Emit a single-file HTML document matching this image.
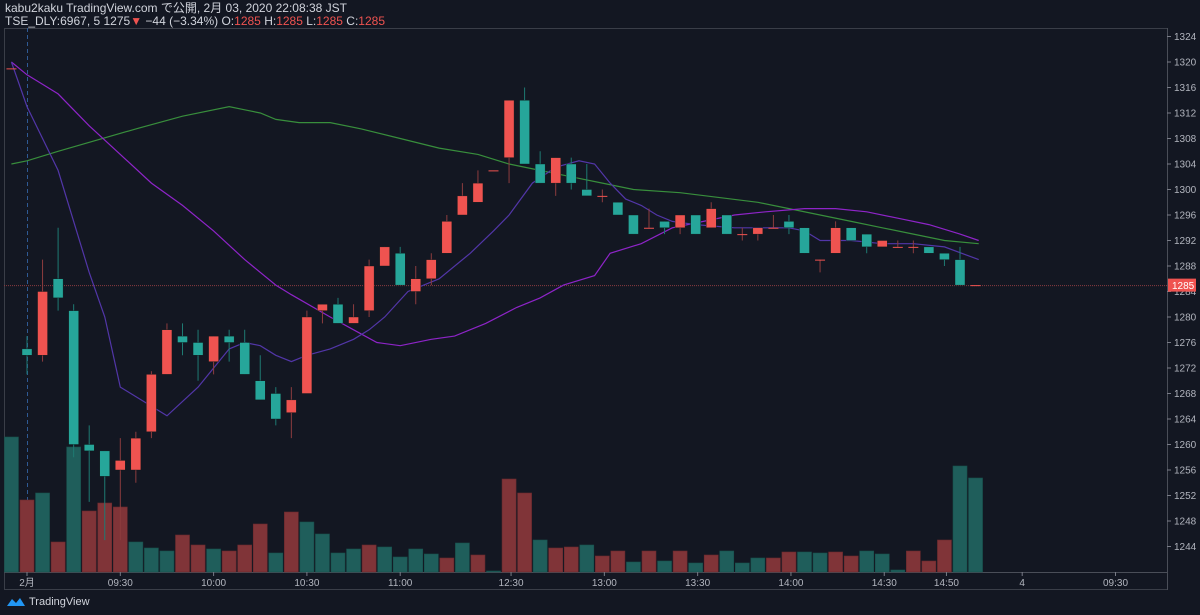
<!DOCTYPE html>
<html><head><meta charset="utf-8"><style>
html,body{margin:0;padding:0;background:#131722;width:1200px;height:615px;overflow:hidden;font-family:"Liberation Sans","Noto Sans CJK JP",sans-serif;}
#hdr{position:absolute;left:5px;top:2px;color:#d1d4dc;font-size:12px;line-height:12.5px;}
#hdr .r{color:#ef5350}
#logo{position:absolute;left:6px;top:596px;color:#d1d4dc;font-size:11px;display:flex;align-items:center;gap:3px}
</style></head><body>
<div id="hdr">
<div>kabu2kaku TradingView.com で公開, 2月 03, 2020 22:08:38 JST</div>
<div>TSE_DLY:6967, 5 1275<span class="r">▼</span> −44 (−3.34%) O:<span class="r">1285</span> H:<span class="r">1285</span> L:<span class="r">1285</span> C:<span class="r">1285</span></div>
</div>
<svg id="chart" width="1200" height="615" style="position:absolute;left:0;top:0"></svg>
<div id="logo"><svg width="20" height="12" viewBox="0 0 20 12"><path d="M1 10 L6 3 L10 7 L14 2 L19 10 Z" fill="#2196f3"/></svg><span>TradingView</span></div>
<script>
// data: index -1..61
const opens  =[1319,1275,1274,1286,1281,1260,1259,1256,1256,1262,1271,1277,1276,1273,1277,1276,1270,1268,1265,1268,1281,1282,1279,1281,1288,1290,1284,1286,1290,1296,1298,1303,1305,1314,1304,1301,1304,1300,1299,1298,1296,1294,1295,1294,1296,1294,1296,1293,1293,1294,1295,1294,1289,1290,1294,1293,1291,1291,1291,1291,1290,1289,1285];
const closes =[1319,1274,1284,1283,1260,1259,1255,1257.5,1261,1271,1278,1276,1274,1277,1276,1271,1267,1264,1267,1280,1282,1279,1280,1288,1291,1285,1286,1289,1295,1299,1301,1303,1314,1304,1301,1305,1301,1299,1299,1296,1293,1294,1294,1296,1293,1297,1293,1293,1294,1294,1294,1290,1289,1294,1292,1291,1292,1291,1291,1290,1289,1285,1285];
const highs  =[1319,1277,1289,1294,1282,1263,1259,1261,1262,1271.5,1279,1279,1278,1277,1278,1278,1274,1269,1269,1281,1282,1283,1282,1289,1291,1291,1288,1290,1296,1301,1303,1303,1314,1316,1306,1305,1305,1304,1300,1298,1296,1297,1295,1296,1296,1298,1296,1294,1294,1296,1296,1294,1289,1295,1294,1293,1292,1292,1292,1291,1290,1291,1285];
const lows   =[1319,1271,1273,1281,1258,1251,1245,1245,1254,1261,1271,1274,1270,1271,1273,1271,1267,1263,1261,1268,1279,1279,1279,1280,1288,1285,1282,1285,1290,1296,1298,1303,1301,1304,1301,1299,1300,1299,1298,1296,1293,1294,1293,1293,1293,1294,1293,1292,1292,1294,1293,1290,1287,1290,1292,1290,1291,1291,1290,1290,1288,1285,1285];
const volumeTops=[437,500,493,542,447,511,503,507,542,548,551,535,545,549,551,545,524,553,512,522,534,553,549,545,547,557,549,554,558,543,555,571,479,493,540,548,547,545,556,551,562,551,561,551,563,555,551,563,558,558,552,552,553,552,556,551,554,570,551,561,540,466,478];
const volumeUp=[0,1,0,1,0,1,1,1,0,0,0,1,1,0,1,1,1,0,1,0,0,0,0,1,0,0,0,0,1,0,1,0,1,1,0,1,1,0,1,1,0,1,0,1,0,1,0,0,0,1,1,0,0,1,1,0,0,0,1,1,1,0];
const priceTicks=[1324,1320,1316,1312,1308,1304,1300,1296,1292,1288,1284,1280,1276,1272,1268,1264,1260,1256,1252,1248,1244];
const timeLabels=["2月","09:30","10:00","10:30","11:00","12:30","13:00","13:30","14:00","14:30","14:50","4","09:30"];
const timeIdx=[0,6,12,18,24,31,37,43,49,55,59,64,70];
// moving averages as [barIndex, price]
const maGreenIdx=[-1,0,2,7,10,13,14,15,16,17.5,19.5,21.5,24,26.5,29,31,33,35,37,39,42,47,49,51,53,55,57,59,61.2];
const maGreenVal=[1304,1304.5,1306,1309.5,1311.5,1313,1312.5,1312,1311,1310.5,1310.5,1309.5,1308,1306.5,1305.5,1304,1303,1302,1301,1300,1299.5,1298,1297,1296,1295,1294,1293,1292,1291.5];
const maPurpleIdx=[-1,0,1,2,4,6,8,10,12,14,16,17,19.5,21,22.5,24,26,27.5,29.5,31.5,33,34.5,36.5,37.5,39.5,41.5,43.5,45.5,47.5,50,52,54,56,58,60,61.2];
const maPurpleVal=[1320,1318,1316.5,1315,1310,1305.5,1301,1297.5,1293.5,1289,1285,1283.5,1280,1278,1276,1275.5,1276.5,1277,1279,1281.5,1283,1285,1286.5,1290,1291.5,1294,1295,1296,1296.5,1297,1297,1296.5,1295.5,1294.5,1293,1292];
const maShortIdx=[-1,0,2,4,5,6,9,11,13,14,15,16,17,18,19.5,21,22,23,24.5,26.5,28.5,30,31,32.5,34,35.5,36.5,37.5,38.5,39.5,40.5,41.5,43,45.5,48,49,50,51,53,55,57,59,61.2];
const maShortVal=[1320,1313,1303,1287,1280,1269,1264.5,1269,1275,1276,1275.5,1274,1273,1274,1275,1276.5,1278,1280,1284,1286,1290,1293.5,1296,1301,1303.5,1304.5,1304,1301,1298.5,1297.5,1296,1295,1294.5,1294,1294,1294,1293.5,1292,1292,1291.5,1291.5,1291,1289];

const NS="http://www.w3.org/2000/svg";
const svg=document.getElementById('chart');
const X=i=>27+i*15.55;
const Y=p=>62+(1320-p)*6.375;
function mk(tag,attrs,parent){const e=document.createElementNS(NS,tag);for(const k in attrs)e.setAttribute(k,attrs[k]);(parent||svg).appendChild(e);return e;}
// frame
const g0=mk('g',{});


mk('rect',{x:4.5,y:28.5,width:1163,height:561,fill:'none',stroke:'#3a3e48'},g0);
mk('line',{x1:4,y1:572.5,x2:1167,y2:572.5,stroke:'#4a4e58'},g0);
mk('line',{x1:1167.5,y1:28,x2:1167.5,y2:590,stroke:'#4a4e58'},g0);
// session separator
const sep=mk('line',{x1:27.5,y1:28,x2:27.5,y2:572,stroke:'#2f5a94','stroke-dasharray':'4,3'});


// volume
const gv=mk('g',{});


volumeTops.forEach((t,k)=>{const i=k-1;const up=volumeUp[k];
 const b=mk('rect',{x:X(i)-7,y:t,width:14,height:572-t,fill:up?'#803438':'#1f5e5b',stroke:up?'#6a2a2e':'#18504d','stroke-width':0.6},gv);
 
 });
// price line
const pl=mk('line',{x1:4,y1:Y(1285)+0.5,x2:1167,y2:Y(1285)+0.5,stroke:'#8a3b40','stroke-dasharray':'1,1'});


// MAs
function ma(idx,val,color,name,w){const d=idx.map((v,j)=>(j?'L':'M')+X(v).toFixed(1)+' '+Y(val[j]).toFixed(1)).join(' ');
 const p=mk('path',{d:d,fill:'none',stroke:color,'stroke-width':w});
 
 }
ma(maGreenIdx,maGreenVal,'#388e3c','moving-average-long',1.2);
ma(maPurpleIdx,maPurpleVal,'#8e24c8','moving-average-mid',1.2);
ma(maShortIdx,maShortVal,'#5236a8','moving-average-short',1.2);
// candles
const gc=mk('g',{});


opens.forEach((o,k)=>{const i=k-1,c=closes[k],h=highs[k],l=lows[k];const up=c>=o;
 const cx=X(i);const col=up?'#ef5350':'#26a69a';const wc=up?'#8c3c3e':'#1e7a72';
 const g=mk('g',{},gc);
 
 
 mk('line',{x1:cx,y1:Y(h),x2:cx,y2:Y(l),stroke:wc,'stroke-width':1},g);
 const top=Y(Math.max(o,c)),bh=Math.max(1,Y(Math.min(o,c))-top);
 mk('rect',{x:cx-5,y:top,width:10,height:bh,fill:col,stroke:bh>1?'#0e1a1a':col,'stroke-width':bh>1?0.4:0},g);});
// price axis
const ga=mk('g',{});


priceTicks.forEach(p=>{const y=Y(p);mk('line',{x1:1167,y1:y,x2:1171,y2:y,stroke:'#787b86'},ga);
 const t=mk('text',{x:1174,y:y+3.5,fill:'#b2b5be','font-size':'10px','font-family':'Liberation Sans, sans-serif'},ga);t.textContent=p;});
const lb=mk('g',{});


mk('rect',{x:1168,y:Y(1285)-6.5,width:28,height:13,fill:'#ef5350'},lb);
const lt=mk('text',{x:1172,y:Y(1285)+4,fill:'#fff','font-size':'10px','font-family':'Liberation Sans, sans-serif'},lb);lt.textContent='1285';
// time axis
const gt=mk('g',{});


timeLabels.forEach((s,j)=>{let x=X(timeIdx[j]);if(j>=5&&j<=10)x+=2;
 mk('line',{x1:x,y1:572,x2:x,y2:576,stroke:'#787b86'},gt);
 const t=mk('text',{x:x,y:586,fill:'#b2b5be','font-size':'10px','text-anchor':'middle','font-family':'Liberation Sans, Noto Sans CJK JP, sans-serif'},gt);t.textContent=s;});
</script>
</body></html>
